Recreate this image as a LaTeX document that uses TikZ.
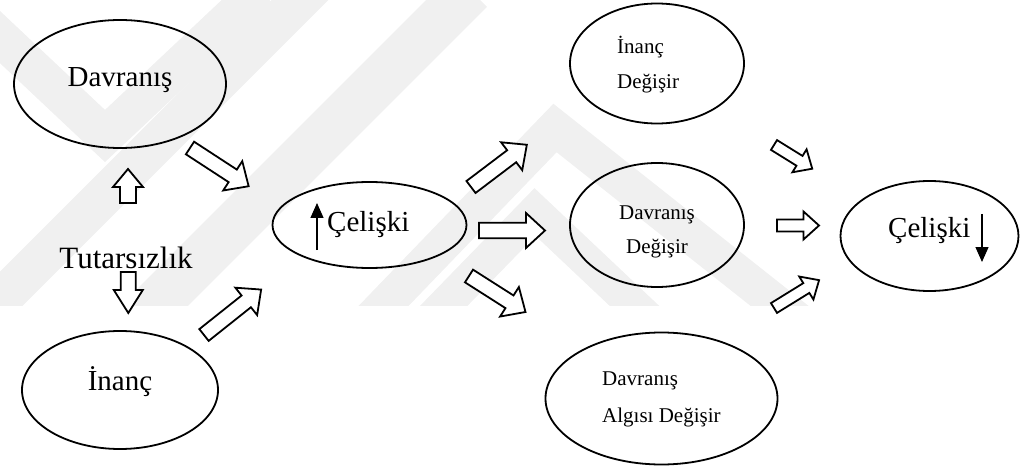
\documentclass[tikz,border=0pt]{standalone}
\usepackage{fontspec}
\setmainfont{Liberation Serif}
\usetikzlibrary{shapes.geometric,arrows.meta}

\definecolor{wmark}{gray}{0.94}

\tikzset{
  bubble/.style={draw=black, line width=1.8pt, ellipse, inner sep=0pt},
  bigtext/.style={font=\fontsize{29}{34}\selectfont, inner sep=0pt},
  smalltext/.style={font=\fontsize{21}{25}\selectfont, inner sep=0pt},
  band/.style={draw=wmark, line width=#1, line cap=butt, line join=miter},
  band/.default=40pt,
  thinarrow/.style={line width=1.3pt, -{Triangle[width=13pt,length=15pt]}},
  pics/blockarrow/.style args={#1/#2/#3/#4}{
    code={
      \draw[line width=1.8pt, line join=miter, fill=white]
        (0,-#2/2) -- (#1-#4,-#2/2) -- (#1-#4,-#3/2) -- (#1,0)
        -- (#1-#4,#3/2) -- (#1-#4,#2/2) -- (0,#2/2) -- cycle;
    }
  }
}

\begin{document}
\begin{tikzpicture}[x=1pt,y=-1pt]
\useasboundingbox (0,0) rectangle (1021,468);

% faint background emblem
\begin{scope}
  \clip (0,0) rectangle (850,305);
  \begin{scope}
    \clip (0,0) rectangle (300,163);
    \draw[band=38pt] (-50,-10) -- (105,136) -- (260,-10);
  \end{scope}
  \draw[band=40pt] (-20,320) -- (320,-20);
  \draw[band=48pt] (140,320) -- (470,-10);
  \draw[band=36pt] (370,320) -- (555,128) -- (810,330);
  \draw[band=34pt] (430,320) -- (535,212) -- (660,330);
\end{scope}

% ellipses
\node[bubble, minimum width=212pt, minimum height=128pt] (dav) at (120,84) {};
\node[bubble, minimum width=196pt, minimum height=118pt] (inc) at (120,390) {};
\node[bubble, minimum width=194pt, minimum height=86pt] (cel1) at (369.5,225) {};
\node[bubble, minimum width=174pt, minimum height=120pt] (idg) at (657,63.5) {};
\node[bubble, minimum width=174pt, minimum height=124pt] (ddg) at (657,225) {};
\node[bubble, minimum width=232pt, minimum height=132pt] (dadg) at (661.5,398.5) {};
\node[bubble, minimum width=178pt, minimum height=110pt] (cel2) at (929.5,236) {};

% labels
\node[bigtext, anchor=base] (tdav) at (120,87) {Davranış};
\node[bigtext, anchor=base] (tinc) at (120,390) {İnanç};
\node[bigtext, font=\fontsize{31}{36}\selectfont, anchor=base] (tut) at (126,269) {Tutarsızlık};
\node[bigtext, anchor=base west] (tcel1) at (327,232) {Çelişki};
\node[bigtext, anchor=base west] (tcel2) at (888,237) {Çelişki};
\node[smalltext, anchor=base west] (tidg1) at (617,54) {İnanç};
\node[smalltext, anchor=base west] (tidg2) at (617,89) {Değişir};
\node[smalltext, anchor=base] (tddg1) at (657,219) {Davranış};
\node[smalltext, anchor=base] (tddg2) at (657,254) {Değişir};
\node[smalltext, anchor=base west] (tdadg1) at (602,385) {Davranış};
\node[smalltext, anchor=base west] (tdadg2) at (602,422) {Algısı Değişir};

% rise and fall marks
\coordinate (up0) at (317,250);
\coordinate (up1) at (317,203);
\coordinate (dn0) at (982,214);
\coordinate (dn1) at (982,262);
\draw[thinarrow] (up0) -- (up1);
\draw[thinarrow] (dn0) -- (dn1);

% block arrows: tail position, direction, length/shaft/head width/head length
\pic[rotate=90]  at (128,203)   {blockarrow={34/16/30/18}};
\pic[rotate=-90] at (128.3,272) {blockarrow={41/15/29/23}};
\pic[rotate=-33.1] at (190,148) {blockarrow={70/15/35/19}};
\pic[rotate=38.5]  at (204,335) {blockarrow={73/15/35/19}};
\pic[rotate=37.1]  at (471,187) {blockarrow={70/15/35/19}};
\pic[rotate=0]     at (479,230.5) {blockarrow={66/15.5/35/19}};
\pic[rotate=-32.5] at (469,276) {blockarrow={67/15/35/19}};
\pic[rotate=-31.8] at (774,145) {blockarrow={45/11.5/27/15}};
\pic[rotate=0]     at (777,225.5) {blockarrow={42/12/28/15.5}};
\pic[rotate=31.7]  at (774,308) {blockarrow={53/11.5/27/15}};
\end{tikzpicture}
\end{document}
